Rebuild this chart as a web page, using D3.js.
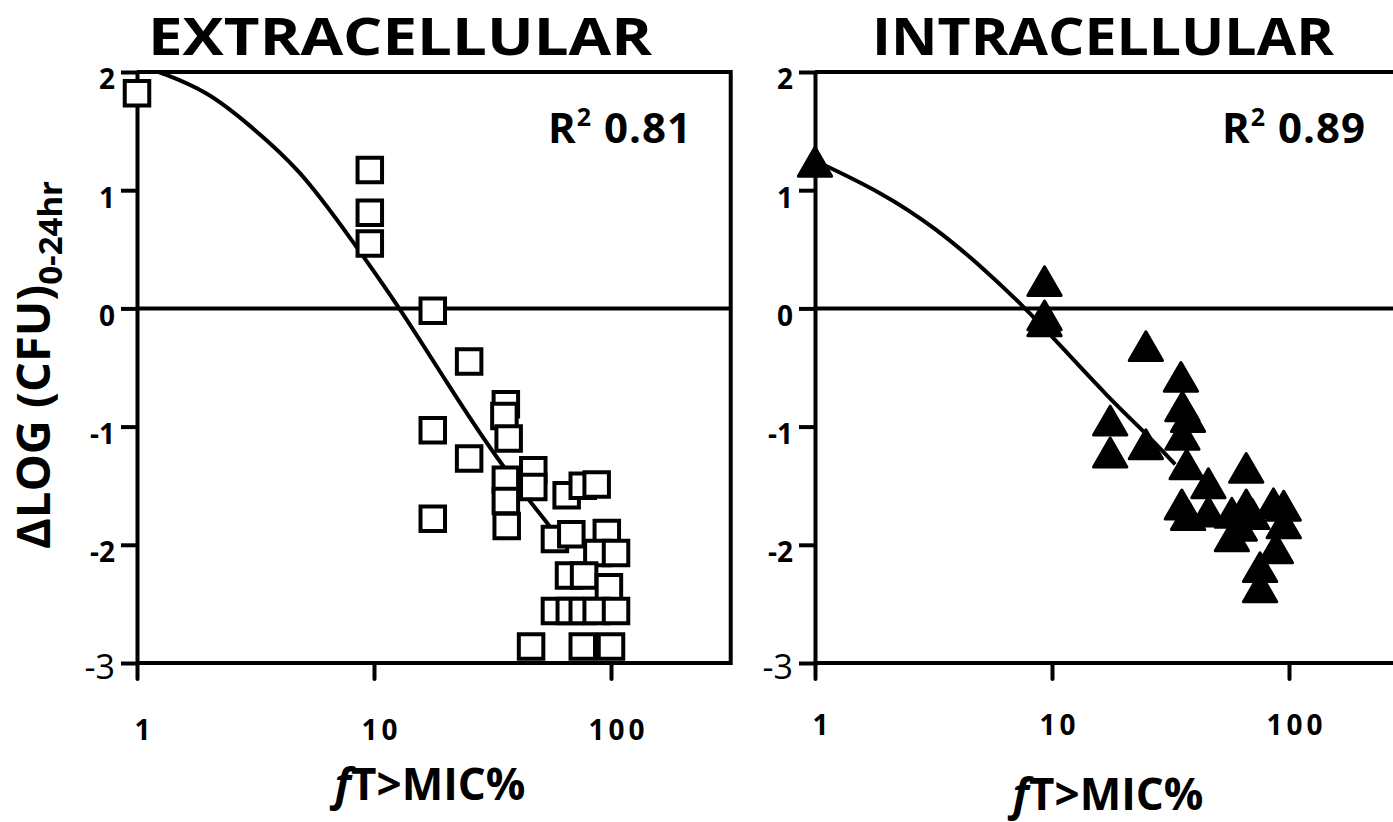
<!DOCTYPE html>
<html>
<head>
<meta charset="utf-8">
<script src="https://cdn.jsdelivr.net/npm/d3@7"></script>
<style>
  body { margin: 0; background: #fff; }
  svg { display: block; }
  text { font-family: "Open Sans", sans-serif; font-weight: 700; fill: #000; }
</style>
</head>
<body>
<svg width="1393" height="822"></svg>
<script>
// tick values
const yTicks = [2, 1, 0, -1, -2, -3];
const xTicks = [1, 10, 100];

// extracellular (open squares)
const extraX = [1, 9.6, 9.6, 9.6, 17.7, 17.7, 17.7, 25.2, 25.2, 36, 35.5, 37, 36, 36, 36.3,
  47, 47, 46, 65, 76, 87, 58, 68, 96, 87.6, 105, 66.5, 77, 98, 58, 67, 76, 87, 105, 76, 100];
const extraY = [1.82, 1.17, 0.81, 0.55, -0.02, -1.03, -1.78, -0.45, -1.27, -0.81, -0.91, -1.10, -1.45, -1.63, -1.84,
  -1.37, -1.51, -2.86, -1.58, -1.50, -1.49, -1.95, -1.91, -1.90, -2.07, -2.07, -2.26, -2.26, -2.36, -2.56, -2.56, -2.56, -2.56, -2.56, -2.86, -2.86];
const extraFitX = [1, 1.29, 2, 2.91, 4.87, 7.92, 12.9, 20, 33, 55];
const extraFitY = [2.06, 1.99, 1.83, 1.57, 1.18, 0.6, 0, -0.61, -1.28, -1.84];

// intracellular (filled triangles)
const intraX = [1, 9.3, 9.3, 9.3, 17.6, 17.6, 24.9, 24.9, 35, 35.5, 37.5, 35.5, 37, 35.3, 37.5,
  45.7, 45.7, 57.4, 57.4, 66, 66, 70, 75.5, 75.5, 86, 95, 95, 88, 62];
const intraY = [1.2, 0.19, -0.1, -0.15, -0.99, -1.26, -0.36, -1.19, -0.62, -0.87, -0.96, -1.11, -1.36, -1.7, -1.79,
  -1.52, -1.76, -1.77, -1.97, -1.39, -1.7, -1.78, -2.23, -2.4, -1.69, -1.71, -1.86, -2.07, -1.88];
const intraFitX = [1, 1.92, 3.23, 5.07, 7.74, 10.35, 17.4, 24.7, 33.1];
const intraFitY = [1.25, 0.98, 0.68, 0.35, 0, -0.27, -0.76, -1.05, -1.32];

const svg = d3.select("svg");
const DECADE = 237;
const y = d3.scaleLinear().domain([-3, 2]).range([663, 72]);

function drawPanel(p) {
  const x = d3.scaleLog().domain([1, 320]).range([p.x0, p.x0 + DECADE * Math.log10(320)]);
  const [xl, xr] = x.range();
  const g = svg.append("g");
  const id = p.id;

  g.append("text")
    .attr("x", p.titleCx).attr("y", 55)
    .attr("text-anchor", "middle")
    .attr("font-size", 52)
    .attr("textLength", p.titleW)
    .attr("lengthAdjust", "spacingAndGlyphs")
    .text(p.title);

  // frame + zero line
  const frame = g.append("g").attr("stroke", "#000").attr("stroke-width", 4).attr("fill", "none");
  frame.append("line").attr("x1", xl).attr("x2", xr).attr("y1", y(2)).attr("y2", y(2));
  frame.append("line").attr("x1", xr).attr("x2", xr).attr("y1", y(2)).attr("y2", y(-3)).attr("stroke-linecap", "square");
  frame.append("line").attr("x1", xl).attr("x2", xr).attr("y1", y(-3)).attr("y2", y(-3));
  frame.append("line").attr("x1", xl).attr("x2", xr).attr("y1", y(0)).attr("y2", y(0));

  // y axis
  const ya = g.append("g")
    .attr("transform", `translate(${xl},0)`)
    .call(d3.axisLeft(y).tickValues(yTicks).tickSize(16).tickSizeOuter(0).tickPadding(6).tickFormat((d) => String(d)))
    .attr("font-size", 28);
  ya.select(".domain").attr("stroke-width", 4);
  ya.selectAll(".tick line").attr("stroke-width", 4);
  ya.selectAll(".tick text").attr("dy", "0.6em");
  ya.selectAll(".tick text").filter((d) => d === -3)
    .style("font-weight", 400).attr("font-size", 34).attr("dy", "0.45em");

  // x axis
  const xa = g.append("g")
    .attr("transform", `translate(0,${y(-3)})`)
    .call(d3.axisBottom(x).tickValues(xTicks).tickSize(16).tickFormat((d) => String(d)))
    .attr("font-size", 28);
  xa.select(".domain").remove();
  xa.selectAll(".tick line").attr("stroke-width", 4).attr("stroke-linecap", "round");
  xa.selectAll(".tick text").attr("y", p.tickLabY).attr("dy", 0).attr("dx", 7).attr("letter-spacing", 4);

  // fitted curve
  svg.append("clipPath").attr("id", "clip-" + id)
    .append("rect").attr("x", xl).attr("y", y(2)).attr("width", xr - xl).attr("height", y(-3) - y(2));
  const fit = p.fitX.map((v, i) => [v, p.fitY[i]]);
  g.append("path")
    .datum(fit)
    .attr("clip-path", `url(#clip-${id})`)
    .attr("fill", "none")
    .attr("stroke", "#000")
    .attr("stroke-width", 4)
    .attr("d", d3.line().x((d) => x(d[0])).y((d) => y(d[1])).curve(d3.curveBasis));

  // points
  const pts = p.xs.map((v, i) => [v, p.ys[i]]);
  g.append("g").selectAll("path")
    .data(pts)
    .join("path")
    .attr("transform", (d) => `translate(${x(d[0])},${y(d[1])})`)
    .attr("d", d3.symbol(p.symbol, p.symbolSize))
    .attr("fill", p.fill)
    .attr("stroke", "#000")
    .attr("stroke-width", p.strokeW)
    .attr("stroke-linejoin", p.join);

  // R squared
  const r2 = g.append("text")
    .attr("x", p.r2x).attr("y", 143)
    .attr("text-anchor", "end")
    .attr("font-size", 42)
    .attr("letter-spacing", 1);
  r2.append("tspan").text("R");
  r2.append("tspan").attr("font-size", 25).attr("dy", -17).text("2");
  r2.append("tspan").attr("dy", 17).text(" " + p.r2);

  // x title
  const xt = g.append("text")
    .attr("x", p.xTitleCx).attr("y", p.xTitleY)
    .attr("text-anchor", "middle")
    .attr("font-size", 44);
  xt.append("tspan").style("font-style", "italic").text("f");
  xt.append("tspan").text("T>MIC%");
}

drawPanel({
  id: "extra", x0: 137, title: "EXTRACELLULAR", titleCx: 400, titleW: 504,
  xs: extraX, ys: extraY, fitX: extraFitX, fitY: extraFitY,
  symbol: d3.symbolSquare, symbolSize: 600, fill: "#fff", strokeW: 4, join: "miter",
  r2: "0.81", r2x: 692, tickLabY: 77, xTitleCx: 430, xTitleY: 800
});

drawPanel({
  id: "intra", x0: 815, title: "INTRACELLULAR", titleCx: 1103, titleW: 462,
  xs: intraX, ys: intraY, fitX: intraFitX, fitY: intraFitY,
  symbol: d3.symbolTriangle, symbolSize: 480, fill: "#000", strokeW: 3, join: "round",
  r2: "0.89", r2x: 1366, tickLabY: 72, xTitleCx: 1108, xTitleY: 810
});

// shared y title
const yt = svg.append("text")
  .attr("transform", "translate(50,365) rotate(-90)")
  .attr("text-anchor", "middle")
  .attr("font-size", 47);
yt.append("tspan").text("ΔLOG (CFU)");
yt.append("tspan").attr("font-size", 33).attr("dy", 12).text("0-24hr");
</script>
</body>
</html>
